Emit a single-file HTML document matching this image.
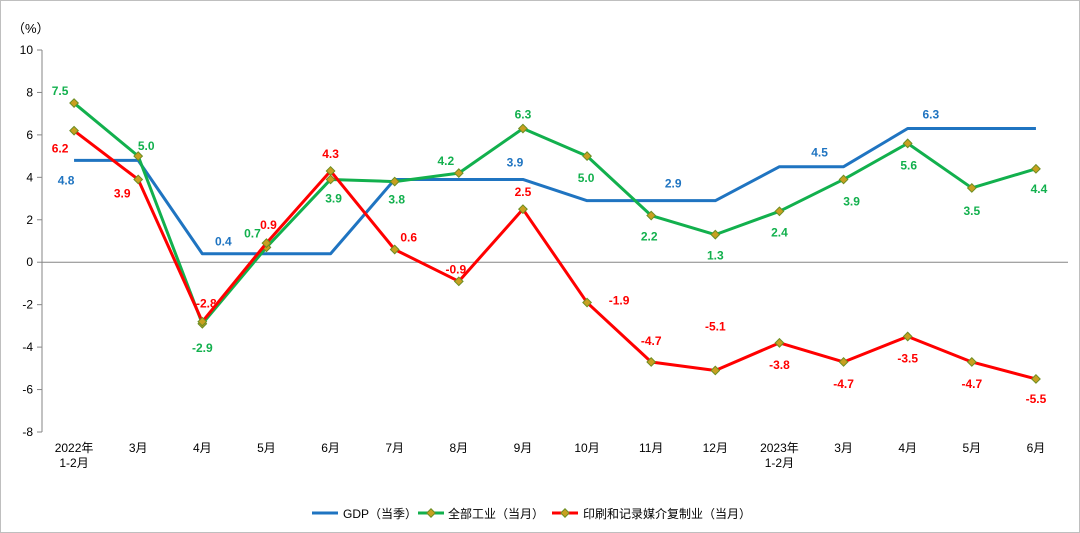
<!DOCTYPE html>
<html><head><meta charset="utf-8">
<style>
html,body{margin:0;padding:0;background:#fff;}
svg{display:block;font-family:"Liberation Sans","Noto Sans CJK SC",sans-serif;}
</style></head>
<body>
<svg id="chart" width="1080" height="533" viewBox="0 0 1080 533">
<rect x="0.5" y="0.5" width="1079" height="532" fill="#fff" stroke="#bfbfbf"/>
<text x="12" y="33" font-size="13" fill="#000">（%）</text>
<g id="axes"></g>
<g id="series"></g>
<g id="labels"></g>
<g id="legend">
 <line x1="312" y1="513" x2="338" y2="513" stroke="#1f74c1" stroke-width="3"/>
 <text x="343" y="518" font-size="12">GDP（当季）</text>
 <line x1="418" y1="513" x2="444" y2="513" stroke="#12b04d" stroke-width="3"/>
 <rect x="428" y="510" width="6" height="6" transform="rotate(45 431 513)" fill="#c8a020" stroke="#6b8e23"/>
 <text x="448" y="518" font-size="12">全部工业（当月）</text>
 <line x1="552" y1="513" x2="578" y2="513" stroke="#ff0000" stroke-width="3"/>
 <rect x="562" y="510" width="6" height="6" transform="rotate(45 565 513)" fill="#c8a020" stroke="#6b8e23"/>
 <text x="583" y="518" font-size="12">印刷和记录媒介复制业（当月）</text>
</g>
</svg>
<script>
const categories = ["2022年\n1-2月","3月","4月","5月","6月","7月","8月","9月","10月","11月","12月","2023年\n1-2月","3月","4月","5月","6月"];
const gdpValues = [4.8,4.8,0.4,0.4,0.4,3.9,3.9,3.9,2.9,2.9,2.9,4.5,4.5,6.3,6.3,6.3];
const industryValues = [7.5,5.0,-2.9,0.7,3.9,3.8,4.2,6.3,5.0,2.2,1.3,2.4,3.9,5.6,3.5,4.4];
const printingValues = [6.2,3.9,-2.8,0.9,4.3,0.6,-0.9,2.5,-1.9,-4.7,-5.1,-3.8,-4.7,-3.5,-4.7,-5.5];
const yTicks = [10,8,6,4,2,0,-2,-4,-6,-8];
const gdpLabelIdx = [0,2,7,9,12,14];
// label placement (style): [dx, dy]
const gdpOff = {0:[-8,20],2:[21,-12],7:[-8,-17],9:[22,-17],12:[-24,-14],14:[-41,-14]};
const indOff = [[-14,-12],[8,-10],[0,24],[-14,-14],[3,19],[2,18],[-13,-12],[0,-14],[-1,22],[-2,21],[0,21],[0,21],[8,22],[1,22],[0,23],[3,20]];
const prtOff = [[-14,18],[-16,14],[4,-18],[2,-18],[0,-17],[14,-12],[-3,-12],[0,-17],[32,-2],[0,-21],[0,-44],[0,22],[0,22],[0,22],[0,22],[0,20]];

const NS="http://www.w3.org/2000/svg";
const x0=42,x1=1068,y0=50,y1=432,yMax=10,yMin=-8;
const step=(x1-x0)/categories.length;
const xS=i=>x0+step*(i+0.5);
const yS=v=>y0+(yMax-v)/(yMax-yMin)*(y1-y0);
function mk(tag,attrs,parent){const e=document.createElementNS(NS,tag);for(const k in attrs)e.setAttribute(k,attrs[k]);parent.appendChild(e);return e;}
const axes=document.getElementById('axes'),ser=document.getElementById('series'),lab=document.getElementById('labels');

let a=mk('line',{x1:x0,y1:y0,x2:x0,y2:y1,stroke:'#868686'},axes);


yTicks.forEach(t=>{
 const y=yS(t);
 const tk=mk('line',{x1:x0-5,y1:y,x2:x0,y2:y,stroke:'#868686'},axes);
 
 
 const tx=mk('text',{x:x0-9,y:y+4,'font-size':12,'text-anchor':'end'},axes);
 tx.textContent=t;
 
 
});
const zl=mk('line',{x1:x0,y1:yS(0),x2:x1,y2:yS(0),stroke:'#868686'},axes);


categories.forEach((c,i)=>{
 const parts=c.split('\n');
 parts.forEach((p,j)=>{
  const t=mk('text',{x:xS(i),y:452+j*15,'font-size':12,'text-anchor':'middle'},axes);
  t.textContent=p;
  
  
 });
});

function drawLine(vals,color,name,markers){
 const pts=vals.map((v,i)=>xS(i)+','+yS(v)).join(' ');
 const pl=mk('polyline',{points:pts,fill:'none',stroke:color,'stroke-width':3,'stroke-linejoin':'round'},ser);
 
 
 if(markers)vals.forEach((v,i)=>{
  const x=xS(i),y=yS(v);
  const m=mk('rect',{x:x-3,y:y-3,width:6,height:6,transform:`rotate(45 ${x} ${y})`,fill:'#c8a020',stroke:'#6b8e23'},ser);
  
  
 });
}
drawLine(gdpValues,'#1f74c1','gdp',false);
drawLine(industryValues,'#12b04d','industry',true);
drawLine(printingValues,'#ff0000','printing',true);

function label(i,v,off,color,name){
 const t=mk('text',{x:xS(i)+off[0],y:yS(v)+off[1]+4,'font-size':12,'font-weight':'bold','text-anchor':'middle',fill:color},lab);
 t.textContent=v.toFixed(1);
 
 
}
gdpLabelIdx.forEach(i=>label(i,gdpValues[i],gdpOff[i],'#1f74c1','gdp'));
industryValues.forEach((v,i)=>label(i,v,indOff[i],'#12b04d','industry'));
printingValues.forEach((v,i)=>label(i,v,prtOff[i],'#ff0000','printing'));
</script>
</body></html>
